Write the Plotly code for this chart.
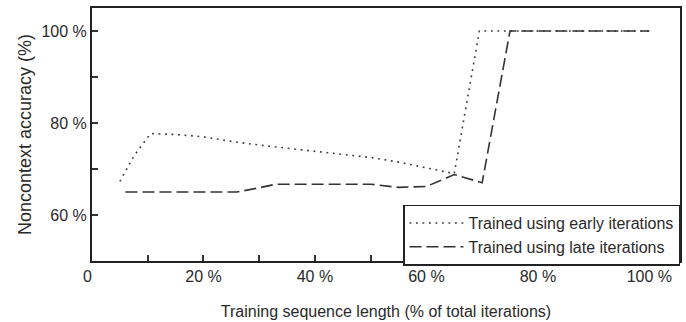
import plotly.graph_objects as go

# Training sequence length (% of total iterations) and noncontext accuracy (%)
early_x = [5, 7.5, 10.5, 15, 20, 25, 30, 35, 40, 45, 50, 55, 60, 65, 69.5, 100]
early_y = [67.3, 72.8, 77.7, 77.5, 77.0, 76.0, 75.2, 74.5, 73.8, 73.2, 72.5, 71.5, 70.2, 69.0, 100, 100]

late_x = [6, 26, 29.5, 33, 50, 55, 60, 65, 70, 75, 100]
late_y = [65, 65, 65.8, 66.7, 66.7, 66.0, 66.2, 68.8, 67.0, 100, 100]

series_names = ["Trained using early iterations", "Trained using late iterations"]

x_tickvals = [0, 10, 20, 30, 40, 50, 60, 70, 80, 90, 100]
x_ticktext = ["0\u00a0\u00a0", "", "20 %", "", "40 %", "", "60 %", "", "80 %", "", "100 %"]
y_tickvals = [60, 70, 80, 90, 100]
y_ticktext = ["60 %", "", "80 %", "", "100 %"]

ink = "#2a2a2a"
font = "Liberation Sans, Arial, sans-serif"

fig = go.Figure()
fig.add_trace(go.Scatter(
    x=early_x, y=early_y, mode="lines", name=series_names[0],
    legendgroup="a",
    line=dict(color="#3a3a3a", width=1.6, dash="1.8px,4.7px"),
))
fig.add_trace(go.Scatter(
    x=late_x, y=late_y, mode="lines", name=series_names[1],
    legendgroup="b",
    line=dict(color="#333333", width=1.6, dash="12px,5px"),
))

fig.update_layout(
    width=686, height=322,
    margin=dict(l=92, r=4, t=8, b=59),
    paper_bgcolor="white", plot_bgcolor="white",
    font=dict(family=font, size=16, color=ink),
    legend=dict(
        x=1, y=-0.018, xanchor="right", yanchor="bottom",
        bgcolor="white", bordercolor="#222", borderwidth=1.5,
        font=dict(size=16, color=ink),
        tracegroupgap=0,
        itemwidth=54,
    ),
    showlegend=True,
)

fig.update_xaxes(
    range=[0, 105.5], tickmode="array", tickvals=x_tickvals, ticktext=x_ticktext,
    ticks="inside", ticklen=6, tickwidth=1.5, tickcolor="#333",
    showline=True, linecolor="#222", linewidth=2, mirror=True,
    showgrid=False, zeroline=False,
    title=dict(text="Training sequence length (% of total iterations)", standoff=22,
               font=dict(size=16)),
    tickfont=dict(size=16),
)
fig.update_yaxes(
    range=[50, 105], tickmode="array", tickvals=y_tickvals, ticktext=y_ticktext,
    ticks="inside", ticklen=6, tickwidth=1.5, tickcolor="#333",
    showline=True, linecolor="#222", linewidth=2, mirror=True,
    showgrid=False, zeroline=False,
    title=dict(text="Noncontext accuracy (%)", standoff=5, font=dict(size=18)),
    tickfont=dict(size=16),
)

fig.write_html("out.html")
